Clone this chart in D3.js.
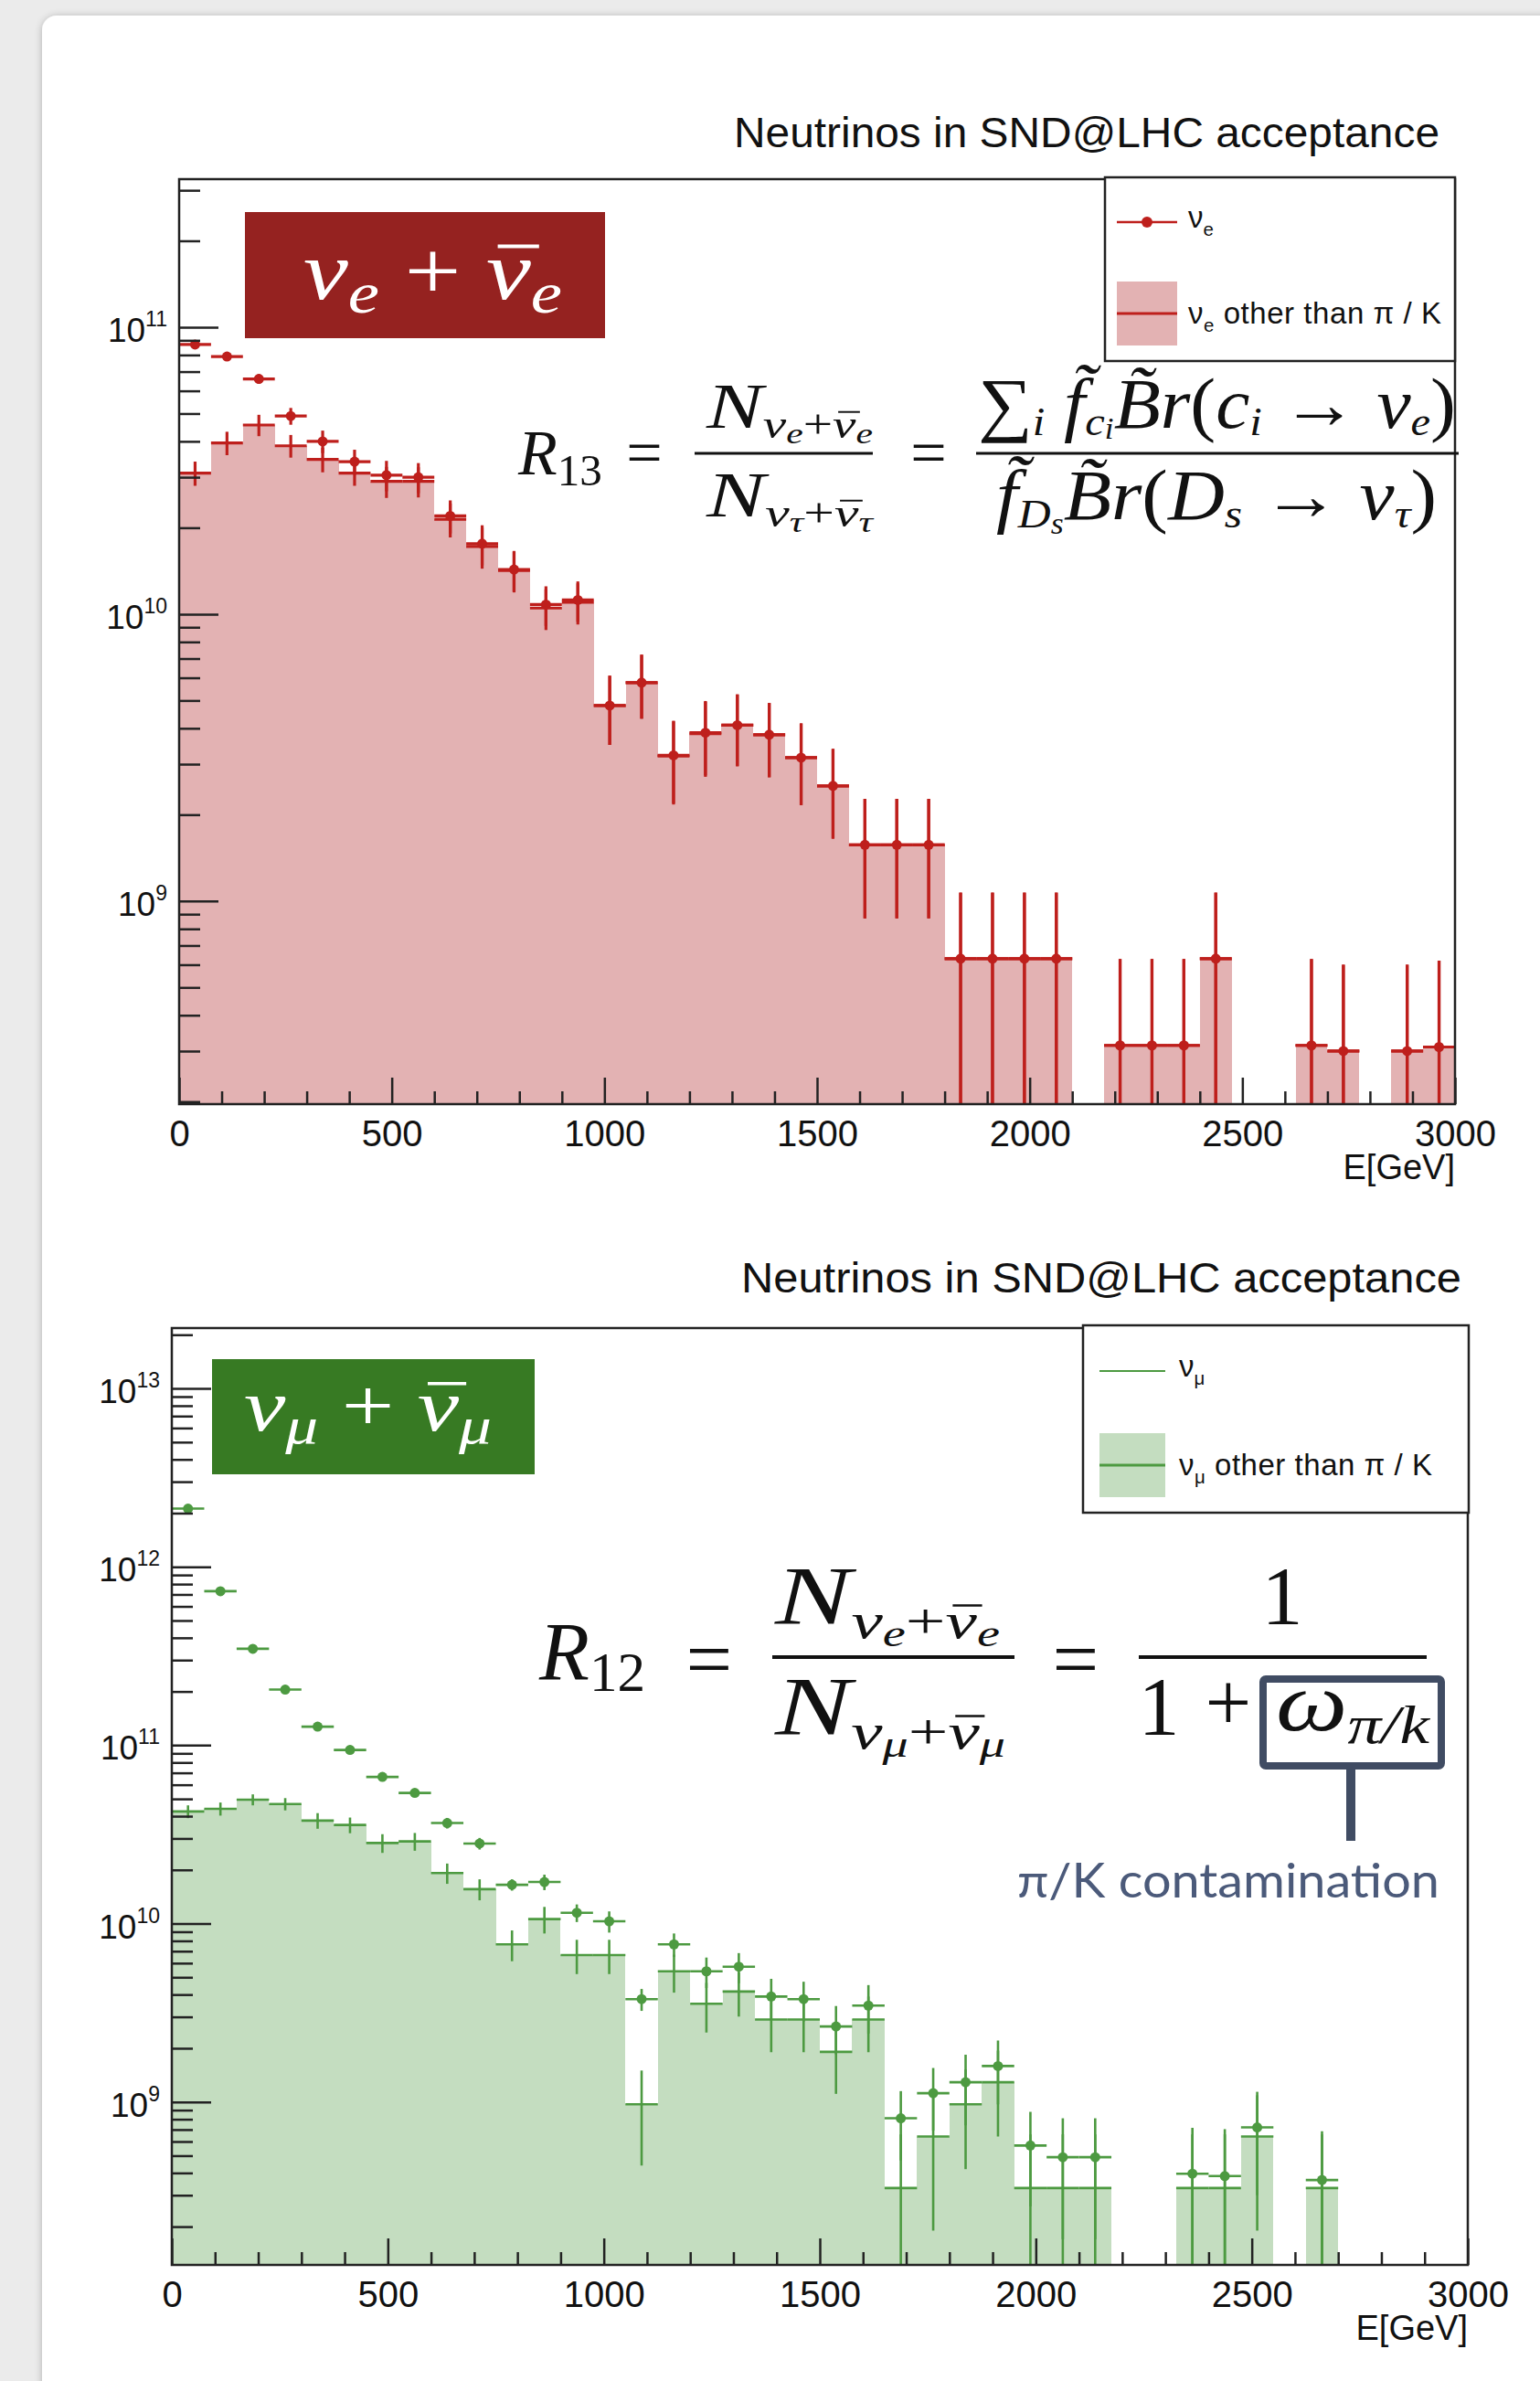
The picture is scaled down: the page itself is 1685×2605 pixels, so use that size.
<!DOCTYPE html>
<html>
<head>
<meta charset="utf-8">
<script src="https://cdn.jsdelivr.net/npm/d3@7"></script>
<style>
html, body { margin: 0; padding: 0; background: #ebebeb; }
svg { display: block; }
</style>
</head>
<body>
<script>
// ---- data (40 bins of 75 GeV) ----
var binLow = [0,75,150,225,300,375,450,525,600,675,750,825,900,975,1050,1125,1200,1275,1350,1425,
              1500,1575,1650,1725,1800,1875,1950,2025,2100,2175,2250,2325,2400,2475,2550,2625,2700,2775,2850,2925];
var binWidth = 75;

var nueAll = [8.7e10,7.9e10,6.6e10,4.9e10,4.0e10,3.4e10,3.05e10,3.0e10,2.2e10,1.76e10,1.43e10,1.08e10,1.12e10,4.8e9,5.77e9,3.22e9,3.86e9,4.1e9,3.8e9,3.16e9,
              2.52e9,1.57e9,1.57e9,1.57e9,6.3e8,6.3e8,6.3e8,6.3e8,0,3.14e8,3.14e8,3.14e8,6.3e8,0,0,3.14e8,3.0e8,0,3.0e8,3.1e8];
var nueAllErr = [2.5e9,2.5e9,2.5e9,3.3e9,3.6e9,3.4e9,3.7e9,3.6e9,2.9e9,2.8e9,2.3e9,1.7e9,1.8e9,1.3e9,1.45e9,1.03e9,1.12e9,1.15e9,1.1e9,1.0e9,
                 8.7e8,7.0e8,7.0e8,7.0e8,4.4e8,4.4e8,4.4e8,4.4e8,0,3.14e8,3.14e8,3.14e8,4.4e8,0,0,3.14e8,3.0e8,0,3.0e8,3.1e8];
var nueOther = [3.1e10,3.95e10,4.56e10,3.86e10,3.46e10,3.1e10,2.9e10,2.9e10,2.14e10,1.72e10,1.42e10,1.05e10,1.1e10,4.8e9,5.77e9,3.2e9,3.83e9,4.1e9,3.8e9,3.16e9,
                2.52e9,1.57e9,1.57e9,1.57e9,6.3e8,6.3e8,6.3e8,6.3e8,0,3.14e8,3.14e8,3.14e8,6.3e8,0,0,3.14e8,3.0e8,0,3.0e8,3.1e8];
var nueOtherErr = [3.0e9,3.7e9,3.9e9,3.5e9,3.4e9,3.0e9,3.6e9,3.5e9,2.9e9,2.8e9,2.3e9,1.7e9,1.8e9,1.3e9,1.45e9,1.03e9,1.12e9,1.15e9,1.1e9,1.0e9,
                   8.7e8,7.0e8,7.0e8,7.0e8,4.4e8,4.4e8,4.4e8,4.4e8,0,3.14e8,3.14e8,3.14e8,4.4e8,0,0,3.14e8,3.0e8,0,3.0e8,3.1e8];

var numuAll = [2.12e12,7.3e11,3.47e11,2.05e11,1.27e11,9.4e10,6.64e10,5.4e10,3.66e10,2.81e10,1.65e10,1.71e10,1.15e10,1.03e10,3.77e9,7.65e9,5.4e9,5.73e9,3.9e9,3.77e9,
               2.65e9,3.47e9,8.1e8,1.12e9,1.29e9,1.59e9,5.7e8,4.9e8,4.9e8,0,0,3.96e8,3.84e8,7.2e8,0,3.65e8,0,0,0,0];
var numuAllErr = [1.0e10,6e9,4e9,3e9,2.5e9,2.2e9,2.0e9,1.9e9,2.5e9,2.1e9,1.2e9,1.7e9,1.3e9,1.4e9,5.3e8,1.15e9,1.05e9,1.1e9,1.0e9,9.5e8,
                  8.0e8,1.05e9,3.4e8,4.3e8,5.5e8,6.2e8,3.1e8,3.2e8,3.2e8,0,0,3.2e8,3.2e8,4.2e8,0,3.2e8,0,0,0,0];
var numuOther = [4.25e10,4.4e10,4.95e10,4.68e10,3.78e10,3.57e10,2.83e10,2.89e10,1.92e10,1.56e10,7.65e9,1.06e10,6.66e9,6.66e9,9.7e8,5.4e9,3.55e9,4.16e9,2.9e9,2.9e9,
                 1.91e9,2.9e9,3.29e8,6.4e8,9.7e8,1.29e9,3.29e8,3.29e8,3.29e8,0,0,3.29e8,3.29e8,6.4e8,0,3.29e8,0,0,0,0];
var numuOtherErr = [3.5e9,3.7e9,3.5e9,3.7e9,3.8e9,3.6e9,3.4e9,3.3e9,2.5e9,2.1e9,1.5e9,1.8e9,1.45e9,1.45e9,5.3e8,1.3e9,1.1e9,1.15e9,1.0e9,1.0e9,
                    8.0e8,1.0e9,3.29e8,4.5e8,5.5e8,6.5e8,3.29e8,3.29e8,3.29e8,0,0,3.29e8,3.29e8,4.5e8,0,3.29e8,0,0,0,0];

var xMajorTicks = [0,500,1000,1500,2000,2500,3000];
var xTickLabels = ["0","500","1000","1500","2000","2500","3000"];
var topDecades = [9,10,11];
var bottomDecades = [9,10,11,12,13];

var W = 1685, H = 2605;
var sans = "'Liberation Sans', Arial, Helvetica, sans-serif";
var serif = "'Liberation Serif', 'Times New Roman', serif";

var svg = d3.select("body").append("svg")
    .attr("width", W)
    .attr("height", H);

var defs = svg.append("defs");
var sh = defs.append("filter").attr("id", "cardshadow").attr("x", "-5%").attr("y", "-5%").attr("width", "110%").attr("height", "110%");
sh.append("feGaussianBlur").attr("in", "SourceAlpha").attr("stdDeviation", 4);
sh.append("feOffset").attr("dx", 0).attr("dy", 1).attr("result", "b");
sh.append("feComponentTransfer").append("feFuncA").attr("type", "linear").attr("slope", 0.25);
var merge = sh.append("feMerge");
merge.append("feMergeNode");
merge.append("feMergeNode").attr("in", "SourceGraphic");

svg.append("rect").attr("width", W).attr("height", H).attr("fill", "#ebebeb");
svg.append("rect")
    .attr("x", 46).attr("y", 17)
    .attr("width", W + 40).attr("height", H + 40)
    .attr("rx", 16)
    .attr("fill", "#ffffff")
    .attr("filter", "url(#cardshadow)");

// text with sub/superscript runs: [text, scale, baselineShift(em), italic, overbar]
function rich(g, x, y, size, runs, o) {
    o = o || {};
    var fill = o.fill || "#111";
    var t = g.append("text")
        .attr("x", x).attr("y", y)
        .attr("font-size", size)
        .attr("font-family", o.family || serif)
        .attr("font-style", o.upright ? "normal" : "italic")
        .attr("fill", fill);
    var cur = 0, bars = [];
    runs.forEach(function(r) {
        var shift = (r[2] || 0) * size;
        var ts = t.append("tspan")
            .text(r[0])
            .attr("font-size", size * (r[1] || 1))
            .attr("dy", shift - cur);
        if (r[3] === false) ts.attr("font-style", "normal");
        if (r[4]) bars.push({ node: ts.node(), s: size * (r[1] || 1) });
        cur = shift;
    });
    if (o.len) t.attr("textLength", o.len).attr("lengthAdjust", o.adjust || "spacingAndGlyphs");
    // overbars (anti-neutrino) drawn from the measured glyph box
    bars.forEach(function(b) {
        try {
            var p0 = b.node.getStartPositionOfChar(0);
            var p1 = b.node.getEndPositionOfChar(0);
            var by = p0.y - 0.64 * b.s;
            g.append("line")
                .attr("x1", p0.x + 0.14 * b.s).attr("x2", p1.x + 0.1 * b.s)
                .attr("y1", by).attr("y2", by)
                .attr("stroke", fill).attr("stroke-width", Math.max(1.5, 0.045 * b.s));
        } catch (e) { }
    });
    return t;
}

function drawPanel(p) {
    var x = d3.scaleLinear().domain([0, 3000]).range([p.left, p.right]);
    var y = d3.scaleLog().domain(p.yDomain).range([p.bottom, p.top]);
    var g = svg.append("g");

    defs.append("clipPath").attr("id", p.id + "-clip")
        .append("rect")
        .attr("x", p.left).attr("y", p.top)
        .attr("width", p.right - p.left).attr("height", p.bottom - p.top);

    var plot = g.append("g").attr("clip-path", "url(#" + p.id + "-clip)");

    var other = binLow.map(function(lo, i) { return { lo: lo, v: p.other[i], e: p.otherErr[i] }; })
        .filter(function(d) { return d.v > 0; });
    var all = binLow.map(function(lo, i) { return { lo: lo, v: p.all[i], e: p.allErr[i] }; })
        .filter(function(d) { return d.v > 0; });

    // filled histogram
    plot.selectAll("rect.fill").data(other).join("rect")
        .attr("class", "fill")
        .attr("x", function(d) { return x(d.lo); })
        .attr("width", function(d) { return x(d.lo + binWidth) - x(d.lo); })
        .attr("y", function(d) { return y(d.v); })
        .attr("height", function(d) { return p.bottom - y(d.v); })
        .attr("fill", p.fill)
        .attr("shape-rendering", "crispEdges");

    function lowY(d) { return d.v - d.e > 0 ? Math.min(y(d.v - d.e), p.bottom + 20) : p.bottom + 20; }

    function bars(data, cls) {
        plot.selectAll("line." + cls + "h").data(data).join("line")
            .attr("class", cls + "h")
            .attr("x1", function(d) { return x(d.lo); })
            .attr("x2", function(d) { return x(d.lo + binWidth); })
            .attr("y1", function(d) { return y(d.v); })
            .attr("y2", function(d) { return y(d.v); })
            .attr("stroke", p.color).attr("stroke-width", p.lw);
        plot.selectAll("line." + cls + "v").data(data).join("line")
            .attr("class", cls + "v")
            .attr("x1", function(d) { return x(d.lo + binWidth / 2); })
            .attr("x2", function(d) { return x(d.lo + binWidth / 2); })
            .attr("y1", function(d) { return y(d.v + d.e); })
            .attr("y2", lowY)
            .attr("stroke", p.color).attr("stroke-width", p.lw);
    }
    bars(other, "oth");
    bars(all, "all");

    plot.selectAll("circle.dot").data(all).join("circle")
        .attr("class", "dot")
        .attr("cx", function(d) { return x(d.lo + binWidth / 2); })
        .attr("cy", function(d) { return y(d.v); })
        .attr("r", p.r)
        .attr("fill", p.color);

    // axes, ticks inside the frame
    var xMinor = d3.range(0, 3001, 100).filter(function(v) { return v % 500 !== 0; });
    var ax1 = g.append("g").attr("transform", "translate(0," + p.bottom + ")")
        .call(d3.axisBottom(x).tickValues(xMinor).tickSize(-14).tickSizeOuter(0).tickFormat(""));
    var ax2 = g.append("g").attr("transform", "translate(0," + p.bottom + ")")
        .call(d3.axisBottom(x).tickValues(xMajorTicks).tickSize(-29).tickSizeOuter(0).tickPadding(18)
            .tickFormat(function(d, i) { return xTickLabels[i]; }));

    var yMinor = [];
    d3.range(Math.floor(Math.log10(p.yDomain[0])), Math.ceil(Math.log10(p.yDomain[1])) + 1).forEach(function(dec) {
        for (var m = 2; m <= 9; m++) {
            var v = m * Math.pow(10, dec);
            if (v >= p.yDomain[0] && v <= p.yDomain[1]) yMinor.push(v);
        }
    });
    var majors = p.decades.map(function(d) { return Math.pow(10, d); });
    var ay1 = g.append("g").attr("transform", "translate(" + p.left + ",0)")
        .call(d3.axisLeft(y).tickValues(yMinor).tickSize(-23).tickSizeOuter(0).tickFormat(""));
    var ay2 = g.append("g").attr("transform", "translate(" + p.left + ",0)")
        .call(d3.axisLeft(y).tickValues(majors).tickSize(-43).tickSizeOuter(0).tickFormat(""));

    [ax1, ax2, ay1, ay2].forEach(function(a) {
        a.select(".domain").remove();
        a.selectAll("line").attr("stroke", "#222").attr("stroke-width", 2.5);
        a.selectAll("text").attr("font-size", 40).attr("font-family", sans).attr("fill", "#111");
    });

    p.decades.forEach(function(dec) {
        var ty = y(Math.pow(10, dec));
        var t = g.append("text")
            .attr("x", p.left - 13).attr("y", ty + 16)
            .attr("text-anchor", "end")
            .attr("font-family", sans).attr("fill", "#111")
            .attr("font-size", 37);
        t.append("tspan").text("10");
        t.append("tspan").text(String(dec)).attr("font-size", 23).attr("dy", -17);
    });

    g.append("rect")
        .attr("x", p.left).attr("y", p.top)
        .attr("width", p.right - p.left).attr("height", p.bottom - p.top)
        .attr("fill", "none").attr("stroke", "#222").attr("stroke-width", 2.5);

    // axis title and plot title
    g.append("text").text("E[GeV]")
        .attr("x", p.right).attr("y", p.bottom + 82)
        .attr("text-anchor", "end")
        .attr("font-family", sans).attr("font-size", 38).attr("fill", "#111");
    g.append("text").text("Neutrinos in SND@LHC acceptance")
        .attr("x", p.titleX).attr("y", p.titleY)
        .attr("font-family", sans).attr("font-size", 46).attr("fill", "#111")
        .attr("textLength", p.titleLen).attr("lengthAdjust", "spacingAndGlyphs");

    // legend
    var L = p.legend;
    g.append("rect")
        .attr("x", L.x0).attr("y", L.y0).attr("width", L.x1 - L.x0).attr("height", L.y1 - L.y0)
        .attr("fill", "#fff").attr("stroke", "#222").attr("stroke-width", 2.5);
    g.append("line")
        .attr("x1", L.sx0).attr("x2", L.sx1).attr("y1", L.row1).attr("y2", L.row1)
        .attr("stroke", p.color).attr("stroke-width", p.legendMarker ? 2.5 : 2);
    if (p.legendMarker) {
        g.append("circle").attr("cx", (L.sx0 + L.sx1) / 2).attr("cy", L.row1).attr("r", 6).attr("fill", p.color);
    }
    rich(g, L.tx, L.row1 + 6, 33, [["ν", 1, 0, false], [p.flav, 0.62, 0.28, false]], { family: sans });
    g.append("rect")
        .attr("x", L.sx0).attr("y", L.row2 - 35).attr("width", L.sx1 - L.sx0).attr("height", 70)
        .attr("fill", p.fill);
    g.append("line")
        .attr("x1", L.sx0).attr("x2", L.sx1).attr("y1", L.row2).attr("y2", L.row2)
        .attr("stroke", p.color).attr("stroke-width", 3);
    rich(g, L.tx, L.row2 + 11, 33, [["ν", 1, 0, false], [p.flav, 0.62, 0.28, false], [" other than π / K", 1, 0, false]],
        { family: sans, len: 277, adjust: "spacing" });

    // flavour label box
    var B = p.badge;
    g.append("rect").attr("x", B.x).attr("y", B.y).attr("width", B.w).attr("height", B.h).attr("fill", B.fill);
    rich(g, B.tx, B.ty, B.size, [["ν", 1, 0], [p.flav, 0.7, 0.17], [" + ", 1, 0, false], ["ν", 1, 0, true, true], [p.flav, 0.7, 0.17]],
        { fill: "#fff", len: B.tlen });
}

drawPanel({
    id: "nue",
    left: 196, right: 1592, top: 196, bottom: 1208,
    yDomain: [1.96e8, 3.28e11],
    decades: topDecades,
    all: nueAll, allErr: nueAllErr, other: nueOther, otherErr: nueOtherErr,
    color: "#be1f1c", fill: "#e3b2b3", lw: 3.2, r: 5.5,
    titleX: 803, titleY: 161, titleLen: 772,
    flav: "e", legendMarker: true,
    legend: { x0: 1209, x1: 1592, y0: 194, y1: 395, sx0: 1222, sx1: 1288, tx: 1300, row1: 243, row2: 343 },
    badge: { x: 268, y: 232, w: 394, h: 138, fill: "#952220", tx: 332, ty: 327, size: 90, tlen: 283 }
});

drawPanel({
    id: "numu",
    left: 188, right: 1606, top: 1453, bottom: 2478,
    yDomain: [1.22e8, 2.18e13],
    decades: bottomDecades,
    all: numuAll, allErr: numuAllErr, other: numuOther, otherErr: numuOtherErr,
    color: "#4d9a41", fill: "#c4ddc0", lw: 2.6, r: 5.5,
    titleX: 811, titleY: 1414, titleLen: 788,
    flav: "μ", legendMarker: false,
    legend: { x0: 1185, x1: 1607, y0: 1450, y1: 1655, sx0: 1203, sx1: 1275, tx: 1290, row1: 1500, row2: 1603 },
    badge: { x: 232, y: 1487, w: 353, h: 126, fill: "#377a23", tx: 267, ty: 1565, size: 80, tlen: 271 }
});

// ---- formulas ----
var fm = svg.append("g");

function sym(g, s, x, y, size) {
    g.append("text").text(s).attr("x", x).attr("y", y).attr("text-anchor", "middle")
        .attr("font-family", serif).attr("font-size", size).attr("fill", "#111");
}
function bar(g, x1, x2, y, w) {
    g.append("line").attr("x1", x1).attr("x2", x2).attr("y1", y).attr("y2", y).attr("stroke", "#111").attr("stroke-width", w);
}

// R13
rich(fm, 567, 519, 70, [["R", 1, 0], ["13", 0.7, 0.17, false]]);
sym(fm, "=", 705, 519, 70);
bar(fm, 760, 955, 496, 3);
rich(fm, 773, 468, 70, [["N", 1, 0], ["ν", 0.62, 0.15], ["e", 0.45, 0.24], ["+", 0.62, 0.15, false], ["ν", 0.62, 0.15, true, true], ["e", 0.45, 0.24]],
    { len: 182 });
rich(fm, 773, 565, 70, [["N", 1, 0], ["ν", 0.62, 0.15], ["τ", 0.45, 0.24], ["+", 0.62, 0.15, false], ["ν", 0.62, 0.15, true, true], ["τ", 0.45, 0.24]],
    { len: 182 });
sym(fm, "=", 1016, 519, 70);
bar(fm, 1068, 1596, 496, 3);
rich(fm, 1070, 468, 78, [["∑", 1, 0, false], ["i", 0.58, 0.1], [" f\u0303", 1, 0], ["c", 0.58, 0.1], ["i", 0.42, 0.16],
    ["B\u0303r", 1, 0], ["(", 1, 0, false], ["c", 1, 0], ["i", 0.58, 0.1], [" → ", 1, 0, false], ["ν", 1, 0], ["e", 0.58, 0.1], [")", 1, 0, false]],
    { len: 523 });
rich(fm, 1090, 568, 78, [["f\u0303", 1, 0], ["D", 0.58, 0.12], ["s", 0.42, 0.2],
    ["B\u0303r", 1, 0], ["(", 1, 0, false], ["D", 1, 0], ["s", 0.58, 0.12], [" → ", 1, 0, false], ["ν", 1, 0], ["τ", 0.58, 0.12], [")", 1, 0, false]],
    { len: 482 });

// R12
rich(fm, 590, 1838, 90, [["R", 1, 0], ["12", 0.68, 0.13, false]]);
sym(fm, "=", 776, 1846, 90);
bar(fm, 845, 1110, 1813, 4);
rich(fm, 848, 1777, 90, [["N", 1, 0], ["ν", 0.62, 0.17], ["e", 0.45, 0.27], ["+", 0.62, 0.17, false], ["ν", 0.62, 0.17, true, true], ["e", 0.45, 0.27]],
    { len: 246 });
rich(fm, 848, 1898, 90, [["N", 1, 0], ["ν", 0.62, 0.17], ["μ", 0.45, 0.27], ["+", 0.62, 0.17, false], ["ν", 0.62, 0.17, true, true], ["μ", 0.45, 0.27]],
    { len: 252 });
sym(fm, "=", 1177, 1846, 90);
bar(fm, 1246, 1561, 1813, 4);
sym(fm, "1", 1403, 1777, 90);
sym(fm, "1", 1268, 1898, 90);
sym(fm, "+", 1344, 1893, 90);
rich(fm, 1396, 1893, 90, [["ω", 1, 0], ["π/k", 0.66, 0.15]], { len: 168 });

var slate = "#404c63";
svg.append("rect").attr("x", 1382).attr("y", 1837).attr("width", 195).attr("height", 95).attr("rx", 3)
    .attr("fill", "none").attr("stroke", slate).attr("stroke-width", 8);
svg.append("line").attr("x1", 1478).attr("x2", 1478).attr("y1", 1932).attr("y2", 2014)
    .attr("stroke", slate).attr("stroke-width", 10);
svg.append("text").text("π/K contamination")
    .attr("x", 1113).attr("y", 2076)
    .attr("font-family", "Lato, 'Open Sans', sans-serif").attr("font-size", 52).attr("fill", "#4b5a7a")
    .attr("textLength", 462).attr("lengthAdjust", "spacingAndGlyphs");
</script>
</body>
</html>
